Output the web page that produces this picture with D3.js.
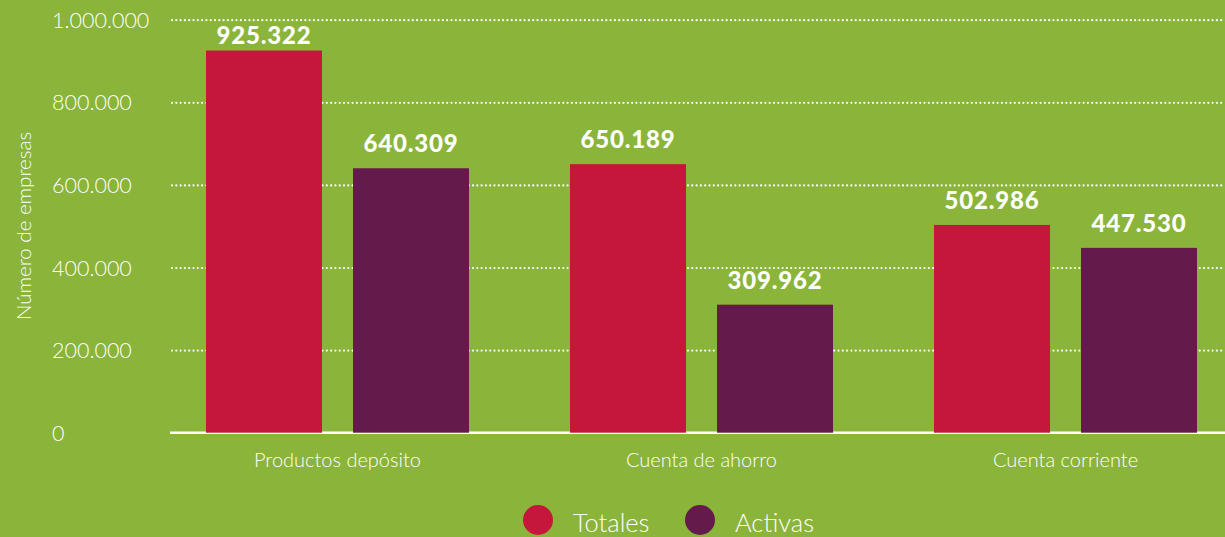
<!DOCTYPE html>
<html>
<head>
<meta charset="utf-8">
<script src="https://cdn.jsdelivr.net/npm/d3@7"></script>
<style>
  body { margin: 0; background: #8ab43a; }
  svg { display: block; font-family: Lato, "Open Sans", sans-serif; }
</style>
</head>
<body>
<svg></svg>
<script>
// data
var categories = ["Productos depósito", "Cuenta de ahorro", "Cuenta corriente"];
var seriesNames = ["Totales", "Activas"];
var totales = [925322, 650189, 502986];
var activas = [640309, 309962, 447530];
var yTicks = [0, 200000, 400000, 600000, 800000, 1000000];
var yTitle = "Número de empresas";

var screen = {width: 1225, height: 537};
var colors = ["#c5163c", "#641b4b"];

var es = d3.formatLocale({decimal: ",", thousands: ".", grouping: [3], currency: ["", "€"]});
var fmt = es.format(",d");

var rows = categories.map(function(c, i){
    return {cat: c, values: [
        {key: seriesNames[0], value: totales[i]},
        {key: seriesNames[1], value: activas[i]}
    ]};
});

var svg = d3.select("svg")
    .attr("width", screen.width)
    .attr("height", screen.height);

svg.append("rect")
    .attr("width", screen.width)
    .attr("height", screen.height)
    .attr("fill", "#8ab43a");

var plotLeft = 170, plotRight = 1225;

var yScale = d3.scaleLinear()
    .domain([0, 1000000])
    .range([432.7, 19.7]);

var xScale = d3.scaleBand()
    .domain(categories)
    .range([170, 1233])
    .paddingInner(101/364)
    .paddingOuter(36/364);

var xInner = d3.scaleBand()
    .domain(seriesNames)
    .range([0, xScale.bandwidth()])
    .paddingInner(31/147)
    .paddingOuter(0);

var cScale = d3.scaleOrdinal()
    .domain(seriesNames)
    .range(colors);

// y axis with gridlines
var yAxis = d3.axisLeft(yScale)
    .tickValues(yTicks)
    .tickSize(-(plotRight - plotLeft))
    .tickPadding(0)
    .tickFormat(fmt);

var gy = svg.append("g")
    .attr("transform", "translate(" + plotLeft + ",0)")
    .call(yAxis);

gy.select(".domain").remove();
gy.selectAll(".tick line")
    .attr("stroke", "#fff")
    .attr("stroke-width", 2.2)
    .attr("stroke-linecap", "round")
    .attr("stroke-dasharray", "0,4.3")
    .attr("x1", 2)
    .filter(function(d){ return d === 0; })
    .remove();
gy.selectAll(".tick text")
    .attr("x", 52 - plotLeft)
    .attr("dy", "0.35em")
    .attr("text-anchor", "start")
    .attr("fill", "#fff")
    .attr("font-size", 21.5)
    .attr("font-weight", 300)
    .style("font-family", "Lato, sans-serif");

// baseline
svg.append("line")
    .attr("x1", plotLeft)
    .attr("x2", plotRight)
    .attr("y1", yScale(0))
    .attr("y2", yScale(0))
    .attr("stroke", "#fff")
    .attr("stroke-width", 2.5);

// bars
var groups = svg.append("g").selectAll("g")
    .data(rows)
    .enter()
    .append("g")
    .attr("transform", function(d){ return "translate(" + xScale(d.cat) + ",0)"; });

groups.selectAll("rect")
    .data(function(d){ return d.values; })
    .enter()
    .append("rect")
    .attr("x", function(d){ return xInner(d.key); })
    .attr("y", function(d){ return yScale(d.value); })
    .attr("width", xInner.bandwidth())
    .attr("height", function(d){ return yScale(0) - yScale(d.value); })
    .attr("fill", function(d){ return cScale(d.key); });

groups.selectAll("text.val")
    .data(function(d){ return d.values; })
    .enter()
    .append("text")
    .attr("class", "val")
    .attr("x", function(d){ return xInner(d.key) + xInner.bandwidth() / 2; })
    .attr("y", function(d){ return Math.max(yScale(d.value) - 16, yScale(1000000) + 24); })
    .attr("text-anchor", "middle")
    .attr("fill", "#fff")
    .attr("font-size", 24)
    .attr("font-weight", 900)
    .attr("letter-spacing", 0.8)
    .text(function(d){ return fmt(d.value); });

// category labels
svg.append("g").selectAll("text")
    .data(categories)
    .enter()
    .append("text")
    .attr("x", function(d){ return xScale(d) + xScale.bandwidth() / 2; })
    .attr("y", 467)
    .attr("text-anchor", "middle")
    .attr("fill", "#fff")
    .attr("font-size", 20)
    .attr("font-weight", 300)
    .text(function(d){ return d; });

// y title
svg.append("text")
    .attr("transform", "translate(31,226) rotate(-90)")
    .attr("text-anchor", "middle")
    .attr("fill", "#fff")
    .attr("font-size", 20.5)
    .attr("font-weight", 300)
    .text(yTitle);

// legend
var legendX = [538, 700];
var legend = svg.append("g").selectAll("g")
    .data(seriesNames)
    .enter()
    .append("g")
    .attr("transform", function(d, i){ return "translate(" + legendX[i] + ",520)"; });

legend.append("circle")
    .attr("r", 15)
    .attr("fill", function(d){ return cScale(d); });

legend.append("text")
    .attr("x", 35)
    .attr("y", 11.5)
    .attr("fill", "#fff")
    .attr("font-size", 25.5)
    .attr("font-weight", 300)
    .text(function(d){ return d; });
</script>
</body>
</html>
